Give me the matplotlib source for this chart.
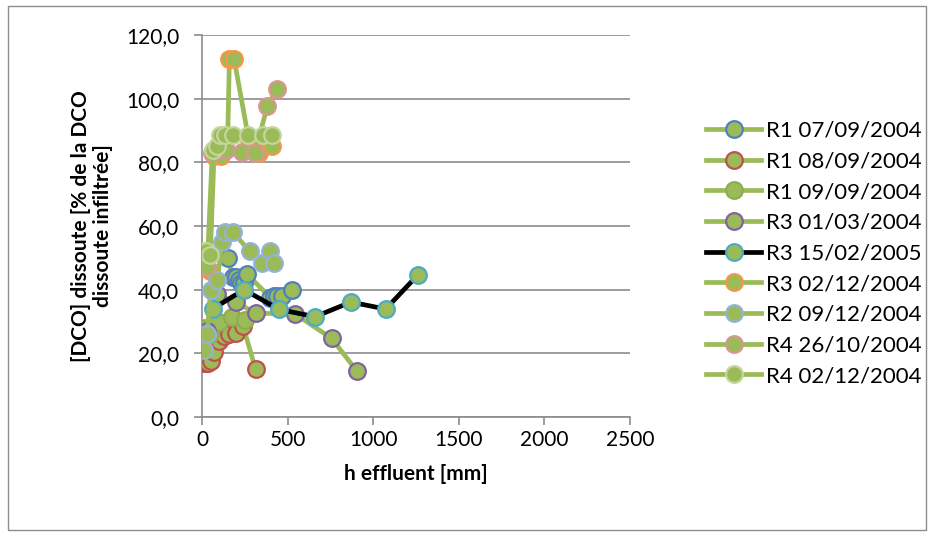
import matplotlib
matplotlib.use("Agg")
import matplotlib.pyplot as plt
from matplotlib.lines import Line2D

plt.rcParams['font.family'] = ['Lato', 'DejaVu Sans']

# series: label, h effluent [mm], DCO dissoute [%]
labels = ["R1 07/09/2004", "R1 08/09/2004", "R1 09/09/2004", "R3 01/03/2004",
          "R3 15/02/2005", "R3 02/12/2004", "R2 09/12/2004", "R4 26/10/2004",
          "R4 02/12/2004"]

h_r1_0709 = [150, 180, 200, 215, 230, 245, 260, 400, 420, 440, 470, 524]
y_r1_0709 = [50.0, 44.0, 44.0, 43.0, 42.0, 42.0, 45.0, 37.5, 38.0, 38.0, 38.0, 40.0]

h_r1_0809 = [5, 15, 25, 35, 50, 70, 100, 130, 160, 200, 240, 313]
y_r1_0809 = [17.0, 17.0, 17.0, 17.0, 17.5, 20.5, 24.0, 25.5, 26.0, 26.5, 28.5, 15.0]

h_r1_0909 = [5, 20, 47, 100, 173, 250]
y_r1_0909 = [27.0, 28.0, 26.0, 30.0, 31.5, 30.5]

h_r3_0103 = [0, 30, 90, 200, 314, 543, 757, 905]
y_r3_0103 = [21.0, 27.0, 38.5, 36.0, 32.6, 32.4, 24.7, 14.4]

h_r3_1502 = [64, 245, 450, 660, 870, 1073, 1260]
y_r3_1502 = [34.0, 40.0, 33.8, 31.5, 36.1, 33.9, 44.6]

h_r3_0212 = [20, 45, 70, 110, 150, 160, 187, 270, 330, 407]
y_r3_0212 = [47.0, 46.0, 82.0, 82.0, 88.0, 112.6, 112.6, 88.0, 83.0, 85.0]

h_r2_0912 = [10, 30, 50, 90, 117, 134, 181, 280, 350, 400, 420]
y_r2_0912 = [21.0, 26.0, 40.0, 43.0, 55.0, 58.0, 58.0, 52.0, 48.5, 52.0, 48.5]

h_r4_2610 = [10, 30, 60, 100, 140, 234, 310, 381, 436]
y_r4_2610 = [48.0, 47.0, 83.0, 84.0, 84.0, 83.3, 83.0, 97.6, 103.0]

h_r4_0212 = [5, 25, 45, 65, 85, 105, 134, 181, 269, 356, 409]
y_r4_0212 = [52.0, 52.0, 51.0, 84.0, 85.0, 88.5, 88.5, 88.5, 88.5, 88.5, 88.5]

series_h = [h_r1_0709, h_r1_0809, h_r1_0909, h_r3_0103, h_r3_1502,
            h_r3_0212, h_r2_0912, h_r4_2610, h_r4_0212]
series_y = [y_r1_0709, y_r1_0809, y_r1_0909, y_r3_0103, y_r3_1502,
            y_r3_0212, y_r2_0912, y_r4_2610, y_r4_0212]

green = '#9BBB59'
line_colors = [green, green, green, green, 'black', green, green, green, green]
edge_colors = ['#4F81BD', '#C0504D', '#8FAD4F', '#8064A2', '#4BACC6',
               '#F79646', '#95B3D7', '#D99694', '#C3D69B']

fig = plt.figure(figsize=(9.34, 5.36), dpi=100)
ax = fig.add_axes([0.2163, 0.222, 0.4582, 0.7127])

for i in range(len(labels)):
    ax.plot(series_h[i], series_y[i], color=line_colors[i], lw=3.4,
            marker='o', ms=12, mfc=green, mec=edge_colors[i], mew=1.6,
            solid_capstyle='round', zorder=2 + i)

ax.set_xlim(0, 2500)
ax.set_ylim(0, 120)
ax.set_xticks(range(0, 2501, 500))
ax.set_yticks(range(0, 121, 20))
ax.set_yticklabels([f"{v},0" for v in range(0, 121, 20)])
ax.yaxis.grid(True, color='#8C8C8C', lw=1.2)
ax.set_axisbelow(True)
for s in ['top', 'right']:
    ax.spines[s].set_visible(False)
for s in ['left', 'bottom']:
    ax.spines[s].set_color('#8C8C8C')
    ax.spines[s].set_linewidth(1.2)
ax.tick_params(axis='both', labelsize=15, color='#8C8C8C', width=1.2, length=5.5)
ax.tick_params(axis='y', pad=11)
ax.tick_params(axis='x', pad=4)

ax.set_xlabel("h effluent [mm]", fontsize=15, fontweight='bold', labelpad=10)
ax.set_ylabel("[DCO] dissoute [% de la DCO\ndissoute infiltrée]", fontsize=15,
              fontweight='bold', labelpad=9, linespacing=1.15)

handles = [Line2D([0], [0], color=line_colors[i], lw=3.4, marker='o', ms=12,
                  mfc=green, mec=edge_colors[i], mew=1.6)
           for i in range(len(labels))]
fig.legend(handles, labels, loc='center left', bbox_to_anchor=(0.735, 0.527),
           frameon=False, fontsize=16, handlelength=2.45, labelspacing=0.48,
           handletextpad=0.22)

# outer chart border
fig.add_artist(plt.Rectangle((0.009, 0.012), 0.982, 0.976, transform=fig.transFigure,
                             fill=False, edgecolor='#8C8C8C', lw=1.0))

fig.savefig("out.png", dpi=100)
